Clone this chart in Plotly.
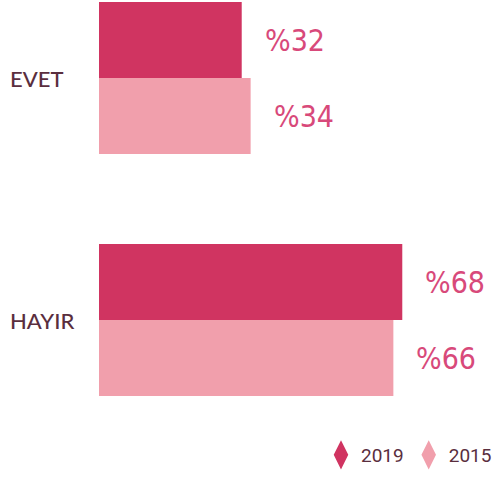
import plotly.graph_objects as go

categories = ["EVET", "HAYIR"]
years = ["2019", "2015"]
values_2019 = [32, 68]
values_2015 = [34, 66]
colors = {"2019": "#d03461", "2015": "#f19fac"}

series = {"2019": values_2019, "2015": values_2015}

W, H = 494, 478
LEFT = 99
PX_PER_UNIT = 4.46
ROW_TOP, ROW_GAP = 78, 242   # centre of first row and spacing between rows, px

fig = go.Figure()
for yr in years:
    fig.add_trace(go.Bar(
        y=categories, x=series[yr], orientation="h", name=yr,
        marker=dict(color=colors[yr], line=dict(width=0)),
        showlegend=False,
    ))
    # legend entries drawn as diamonds
    fig.add_trace(go.Scatter(
        x=[None], y=[None], mode="markers", name=yr,
        marker=dict(symbol="diamond-tall", size=16, color=colors[yr],
                    line=dict(width=3, color=colors[yr])),
    ))

# value labels beside each bar
offset = 76 / ROW_GAP / 2
annotations = []
for i, cat in enumerate(categories):
    for j, yr in enumerate(years):
        v = series[yr][i]
        annotations.append(dict(
            x=v, y=i + (-offset if j == 0 else offset), xref="x", yref="y",
            text=f"%{v}", showarrow=False, xanchor="left", yanchor="middle",
            xshift=21,
            font=dict(family="DejaVu Sans Condensed, Liberation Sans Narrow, sans-serif",
                      size=30, color="#d8497a", weight=300),
        ))
    annotations.append(dict(
        x=(11 - LEFT) / (W - LEFT), xref="paper", y=i, yref="y", text=cat,
        showarrow=False, xanchor="left", yanchor="middle", xshift=-3,
        font=dict(family="Lato, sans-serif", size=22, color="#5a2e3e", weight=500),
    ))

fig.update_layout(
    width=W, height=H,
    margin=dict(l=LEFT, r=0, t=0, b=0, autoexpand=False),
    paper_bgcolor="white", plot_bgcolor="white",
    barmode="group", bargap=1 - 152 / ROW_GAP, bargroupgap=0,
    xaxis=dict(range=[0, (W - LEFT) / PX_PER_UNIT], visible=False, fixedrange=True),
    yaxis=dict(range=[1 + (H - ROW_TOP - ROW_GAP) / ROW_GAP, -ROW_TOP / ROW_GAP],
               showticklabels=False, showgrid=False, zeroline=False,
               showline=False, ticks=""),
    annotations=annotations,
    legend=dict(orientation="h", xref="paper", x=1 + 3 / (W - LEFT), xanchor="right",
                yref="paper", y=(H - 455) / H, yanchor="middle",
                font=dict(family="Roboto, sans-serif", size=19, color="#5a2e3e"),
                itemwidth=30, traceorder="normal", bgcolor="rgba(0,0,0,0)"),
    showlegend=True,
)

fig.write_html("out.html")
